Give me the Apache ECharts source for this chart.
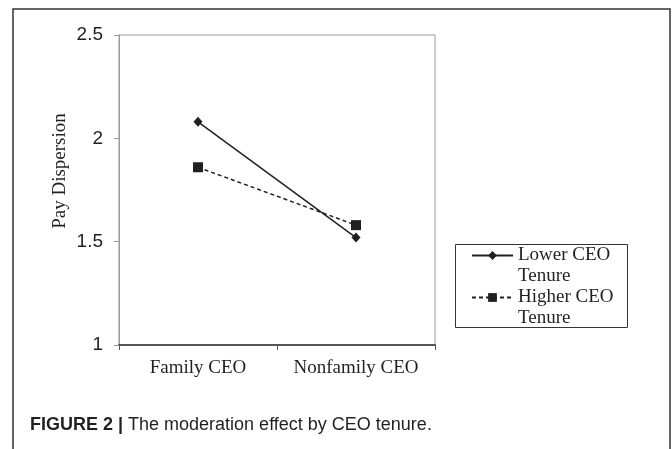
<html>
<head>
<meta charset="utf-8">
<script src="https://cdn.jsdelivr.net/npm/echarts@6.0.0/dist/echarts.min.js"></script>
<style>
  html, body { margin: 0; padding: 0; background: #fff; }
  #main { width: 672px; height: 449px; }
</style>
</head>
<body>
<div id="main"></div>
<script>
    // data
    var categories = ['Family CEO', 'Nonfamily CEO'];
    var lowerTenure = [2.08, 1.52];
    var higherTenure = [1.86, 1.58];
    var seriesNames = ['Lower CEO\nTenure', 'Higher CEO\nTenure'];
    var yTicks = { min: 1, max: 2.5, step: 0.5 };

    var serif = '"Liberation Serif", "DejaVu Serif", serif';
    var sans = '"Liberation Sans", Arial, sans-serif';

    var myChart = echarts.init(document.getElementById('main'));

    option = {
        animation: false,
        backgroundColor: '#fff',
        grid: {
            left: 119, top: 35, right: 237, bottom: 104,
            show: true,
            borderColor: '#9a9a9a',
            borderWidth: 1
        },
        legend: {
            data: seriesNames,
            orient: 'vertical',
            left: 471,
            top: 224,
            padding: 0,
            itemGap: -21,
            itemWidth: 41,
            itemHeight: 11,
            // blank first line so the icon sits beside the first text line
            formatter: function (name) { return '\n' + name; },
            textStyle: {
                fontFamily: serif,
                fontSize: 19,
                color: '#231f20',
                lineHeight: 21
            },
            selectedMode: false
        },
        xAxis: {
            type: 'category',
            data: categories,
            boundaryGap: true,
            axisLine: { lineStyle: { color: '#555', width: 2 } },
            axisTick: { show: true, interval: 0, length: 5, lineStyle: { color: '#555' } },
            axisLabel: { interval: 0, fontFamily: serif, fontSize: 19, color: '#231f20', margin: 14 }
        },
        yAxis: {
            type: 'value',
            min: yTicks.min,
            max: yTicks.max,
            interval: yTicks.step,
            name: 'Pay Dispersion',
            nameLocation: 'middle',
            nameGap: 49,
            nameRotate: 90,
            nameTextStyle: {
                fontFamily: serif, fontSize: 19, color: '#231f20',
                padding: [0, 0, 0, 38]
            },
            axisLine: { show: true, lineStyle: { color: '#9a9a9a', width: 1 } },
            axisTick: { show: true, length: 5, lineStyle: { color: '#9a9a9a' } },
            axisLabel: {
                fontFamily: sans, fontSize: 19, color: '#231f20', margin: 16,
                formatter: function (v) { return String(v); }
            },
            splitLine: { show: false }
        },
        series: [
            {
                name: seriesNames[0],
                type: 'line',
                data: lowerTenure,
                symbol: 'diamond',
                symbolSize: [9, 10],
                itemStyle: { color: '#231f20' },
                lineStyle: { color: '#231f20', width: 1.5, type: 'solid' }
            },
            {
                name: seriesNames[1],
                type: 'line',
                data: higherTenure,
                symbol: 'rect',
                symbolSize: 10,
                itemStyle: { color: '#231f20' },
                lineStyle: { color: '#231f20', width: 1.5, type: [4, 3] }
            }
        ],
        graphic: [
            {
                // outer figure frame
                type: 'rect',
                shape: { x: 13, y: 9, width: 657, height: 480 },
                style: { fill: null, stroke: '#333', lineWidth: 1.5 },
                silent: true
            },
            {
                // legend box
                type: 'rect',
                shape: { x: 455.5, y: 244.5, width: 172, height: 83 },
                style: { fill: null, stroke: '#333', lineWidth: 1 },
                silent: true
            },
            {
                type: 'text',
                left: 30,
                top: 416,
                style: {
                    text: '{b|FIGURE 2 |} The moderation effect by CEO tenure.',
                    fontFamily: sans,
                    fontSize: 18,
                    fill: '#231f20',
                    rich: {
                        b: { fontFamily: sans, fontSize: 18, fontWeight: 'bold', fill: '#231f20' }
                    }
                }
            }
        ]
    };

    myChart.setOption(option);
</script>
</body>
</html>
